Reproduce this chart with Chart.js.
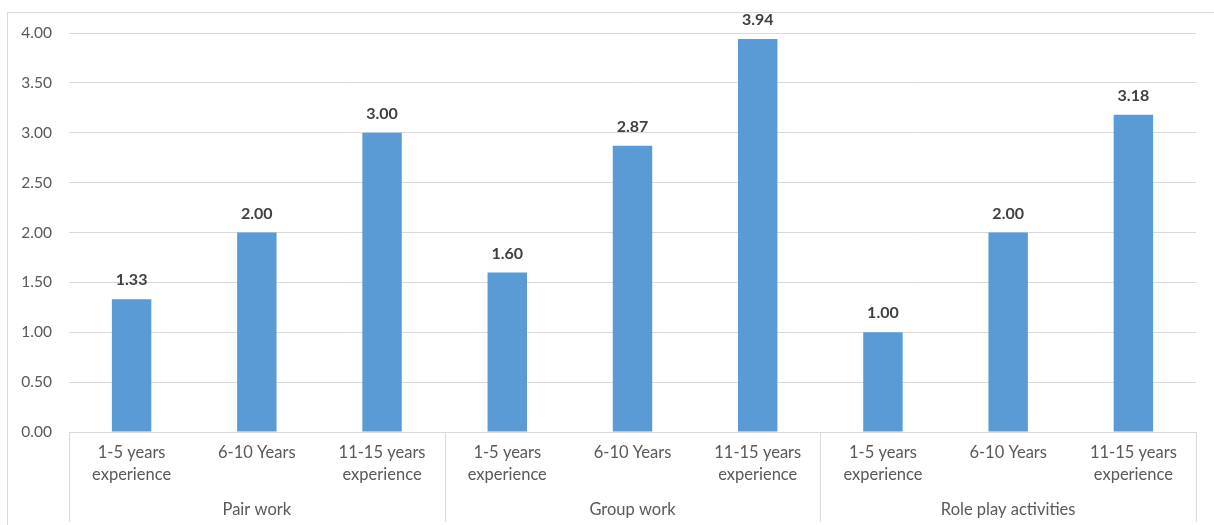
<!DOCTYPE html>
<html>
<head>
<meta charset="utf-8">
<style>
  html, body { margin: 0; padding: 0; background: #ffffff; }
  #wrap { width: 1214px; height: 525px; position: relative; }
</style>
<script src="https://cdn.jsdelivr.net/npm/chart.js@4/dist/chart.umd.min.js"></script>
</head>
<body>
<div id="wrap"><canvas id="chart" width="1214" height="525"></canvas></div>
<script>
// Activity groups (outer axis level) and experience bands (inner level)
const groups = ['Pair work', 'Group work', 'Role play activities'];
const experienceBands = [['1-5 years', 'experience'], ['6-10 Years'], ['11-15 years', 'experience']];
// Mean scores, in group order, three bands per group
const scores = [1.33, 2.00, 3.00, 1.60, 2.87, 3.94, 1.00, 2.00, 3.18];
// Value axis
const yMin = 0;
const yMax = 4;
const yStep = 0.5;

const labels = [];
groups.forEach(() => experienceBands.forEach(b => labels.push(b)));

const FONT = 'Lato, "Liberation Sans", sans-serif';
const LINE = '#d9d9d9';
const TEXT = '#595959';

const groupAxis = {
  id: 'groupAxis',
  afterDraw(chart) {
    const ctx = chart.ctx;
    const x = chart.scales.x;
    const area = chart.chartArea;
    const bottom = 522;
    ctx.save();
    // outer chart frame
    ctx.strokeStyle = LINE;
    ctx.lineWidth = 1;
    ctx.strokeRect(7.5, 12.5, 1220, 530);

    // group separators
    const per = experienceBands.length;
    const edges = [area.left];
    for (let g = 1; g < groups.length; g++) {
      edges.push((x.getPixelForValue(g * per - 1) + x.getPixelForValue(g * per)) / 2);
    }
    edges.push(area.right);
    ctx.beginPath();
    edges.forEach(px => {
      const p = Math.round(px) + 0.5;
      ctx.moveTo(p, area.bottom);
      ctx.lineTo(p, bottom);
    });
    ctx.stroke();

    // group names
    ctx.fillStyle = TEXT;
    ctx.font = '16.5px ' + FONT;
    ctx.textAlign = 'center';
    ctx.textBaseline = 'middle';
    groups.forEach((name, g) => {
      const cx = (edges[g] + edges[g + 1]) / 2;
      ctx.fillText(name, cx, 510);
    });

    // value labels above the bars
    const meta = chart.getDatasetMeta(0);
    ctx.fillStyle = '#404040';
    ctx.font = 'bold 16px ' + FONT;
    ctx.textBaseline = 'middle';
    meta.data.forEach((bar, i) => {
      ctx.fillText(scores[i].toFixed(2), bar.x, bar.y - 19);
    });
    ctx.restore();
  }
};

new Chart(document.getElementById('chart'), {
  type: 'bar',
  data: {
    labels: labels,
    datasets: [{
      data: scores,
      backgroundColor: '#5b9bd5',
      borderWidth: 0,
      barPercentage: 0.315,
      categoryPercentage: 1
    }]
  },
  options: {
    responsive: false,
    animation: false,
    events: [],
    layout: { padding: { top: 33, right: 18, left: 0, bottom: 0 } },
    plugins: { legend: { display: false }, tooltip: { enabled: false } },
    scales: {
      x: {
        grid: { display: false, drawTicks: false },
        border: { display: true, color: LINE, width: 1 },
        ticks: {
          color: TEXT,
          font: { family: FONT, size: 16.5, lineHeight: 1.33 },
          padding: 10,
          maxRotation: 0,
          autoSkip: false
        },
        afterFit(scale) { scale.height = 93; }
      },
      y: {
        min: yMin,
        max: yMax,
        grid: { color: LINE, drawTicks: false },
        border: { display: false },
        ticks: {
          stepSize: yStep,
          color: TEXT,
          padding: 17,
          font: { family: FONT, size: 15.5 },
          callback: v => Number(v).toFixed(2)
        },
        afterFit(scale) { scale.width = 69; }
      }
    }
  },
  plugins: [groupAxis]
});
</script>
</body>
</html>
